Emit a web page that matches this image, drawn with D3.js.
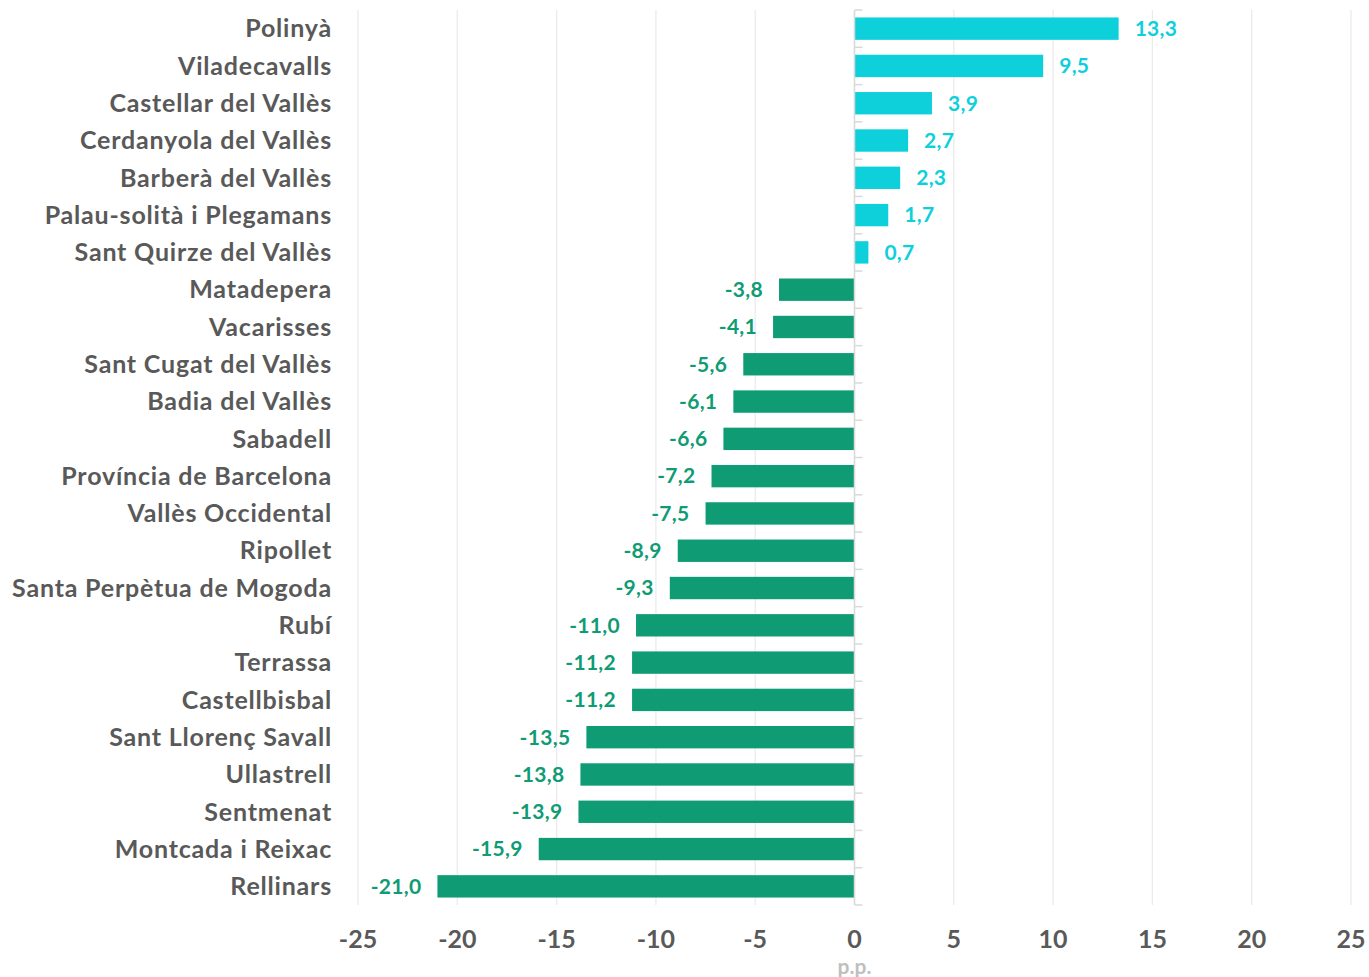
<!DOCTYPE html>
<html><head><meta charset="utf-8">
<script src="https://cdn.jsdelivr.net/npm/d3@7"></script>
<style>body{margin:0;background:#fff;} svg{display:block;font-family:Lato,sans-serif;}</style>
</head><body>
<svg id="c" width="1369" height="977"></svg>
<script>
const categories = ["Polinyà","Viladecavalls","Castellar del Vallès","Cerdanyola del Vallès","Barberà del Vallès","Palau-solità i Plegamans","Sant Quirze del Vallès","Matadepera","Vacarisses","Sant Cugat del Vallès","Badia del Vallès","Sabadell","Província de Barcelona","Vallès Occidental","Ripollet","Santa Perpètua de Mogoda","Rubí","Terrassa","Castellbisbal","Sant Llorenç Savall","Ullastrell","Sentmenat","Montcada i Reixac","Rellinars"];
const values = [13.3,9.5,3.9,2.7,2.3,1.7,0.7,-3.8,-4.1,-5.6,-6.1,-6.6,-7.2,-7.5,-8.9,-9.3,-11.0,-11.2,-11.2,-13.5,-13.8,-13.9,-15.9,-21.0];
const xTicks = [-25,-20,-15,-10,-5,0,5,10,15,20,25];
const axisTitle = "p.p.";

const svg = d3.select("#c");
const x = d3.scaleLinear().domain([-25,25]).range([358,1351]);
const y = d3.scaleBand().domain(categories).range([10,905]).paddingInner(0.4).paddingOuter(0.2);
const fmt = v => d3.format(".1f")(v).replace(".", ",").replace("−","-");

svg.append("g").selectAll("line").data(xTicks).join("line")
  .attr("x1", d=>x(d)).attr("x2", d=>x(d)).attr("y1",10).attr("y2",905)
  .attr("stroke","#ebebeb").attr("stroke-width",1.3);

svg.append("g").selectAll("rect").data(values).join("rect")
  .attr("x", d=>x(Math.min(0,d))).attr("width", d=>Math.abs(x(d)-x(0)))
  .attr("y",(d,i)=>y(categories[i])).attr("height", y.bandwidth())
  .attr("fill", d=> d>=0 ? "#0dd0db" : "#0f9b74");

const bounds = d3.range(categories.length+1).map(i => 10 + i*(895/categories.length));
const ax = svg.append("g");
ax.append("line").attr("x1",x(0)).attr("x2",x(0)).attr("y1",10).attr("y2",905).attr("stroke","#d9d9d9").attr("stroke-width",1.5);
ax.selectAll("line.t").data(bounds).join("line").attr("class","t")
  .attr("x1",x(0)).attr("x2",x(0)+8).attr("y1",d=>d).attr("y2",d=>d).attr("stroke","#d9d9d9").attr("stroke-width",1.5);

svg.append("g").selectAll("text").data(values).join("text")
  .attr("x", d=> d>=0 ? x(d)+16 : x(d)-16)
  .attr("y",(d,i)=>y(categories[i])+y.bandwidth()/2)
  .attr("dy","0.35em")
  .attr("text-anchor", d=> d>=0 ? "start":"end")
  .attr("fill", d=> d>=0 ? "#0dd0db" : "#0f9b74")
  .attr("font-size",21).attr("font-weight","bold").attr("letter-spacing",0.3)
  .text(fmt);

svg.append("g").selectAll("text").data(categories).join("text")
  .attr("x",332).attr("y",d=>y(d)+y.bandwidth()/2).attr("dy","0.35em")
  .attr("text-anchor","end").attr("fill","#595959")
  .attr("font-size",25).attr("font-weight","bold").attr("letter-spacing",0.8).text(d=>d);

svg.append("g").selectAll("text").data(xTicks).join("text")
  .attr("x",d=>x(d)).attr("y",939).attr("dy","0.35em").attr("text-anchor","middle")
  .attr("fill","#595959").attr("font-size",25).attr("font-weight","bold").text(d=>String(d));

svg.append("text").attr("x",x(0)).attr("y",967).attr("dy","0.35em").attr("text-anchor","middle")
  .attr("fill","#bfbfbf").attr("font-size",21).attr("font-weight","bold").text(axisTitle);
</script>
</body></html>
